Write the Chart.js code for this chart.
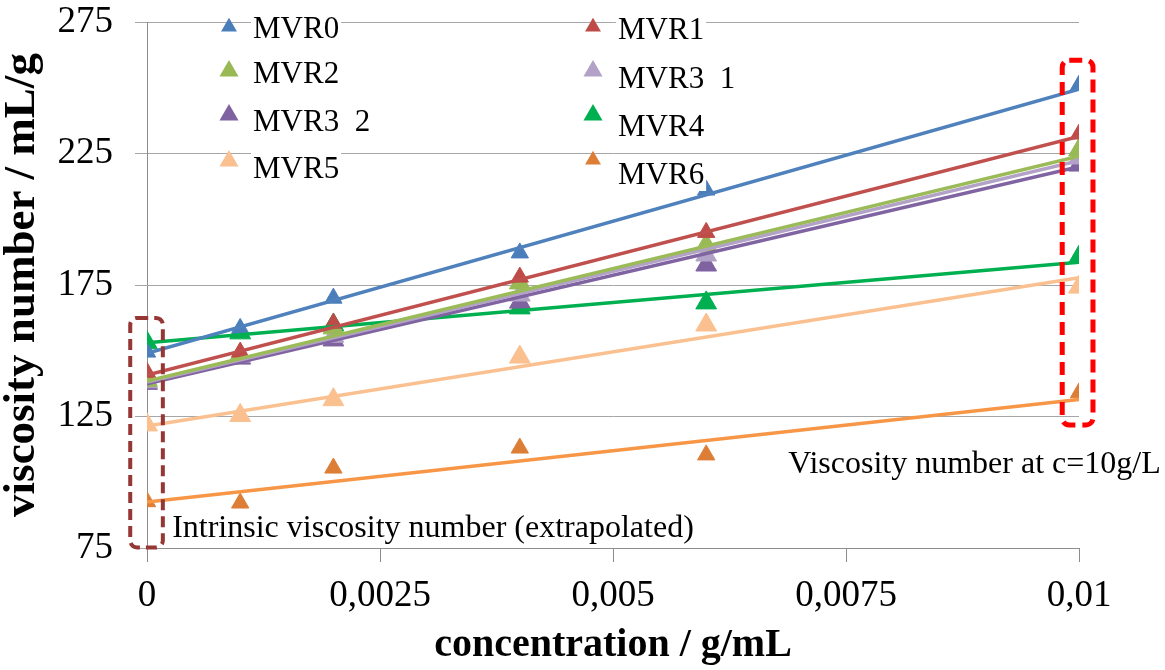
<!DOCTYPE html>
<html>
<head>
<meta charset="utf-8">
<script src="https://cdn.jsdelivr.net/npm/chart.js@4.4.1/dist/chart.umd.min.js"></script>
<style>
    html, body { margin: 0; padding: 0; background: #fff; }
    #wrap { width: 1165px; height: 670px; position: relative; }
</style>
</head>
<body>
<div id="wrap"><canvas id="viscosityChart"></canvas></div>
<script>
// concentration in g/mL
const concentration = [0, 0.001, 0.002, 0.004, 0.006, 0.01];

// measured viscosity numbers (mL/g), first value is the extrapolated one
const mvr0 = [149.5, 158.5, 170, 187.2, 211.1, 251];
const mvr1 = [141.8, 149.5, 160.5, 178, 195, 232.4];
const mvr2 = [138.8, 148.5, 158.7, 175.8, 190.2, 226.3];
const mvr3_1 = [138.2, 148, 155.5, 171.2, 186.4, 223.3];
const mvr3_2 = [137.6, 147.2, 154.1, 168.5, 182.6, 220.6];
const mvr4 = [153, 156.8, 159.8, 166.3, 168.2, 185.6];
const mvr5 = [121.8, 125.4, 131.4, 147.6, 159.8, 174.2];
const mvr6 = [92.6, 92.1, 105.4, 113, 110.4, 134];

// linear trend lines, value read at c = 0 and c = 0.01
const trendX = [0, 0.01];
const trendStart = [149, 140.8, 138.5, 138.1, 137.4, 153, 121.4, 92.5];
const trendEnd = [249.5, 231.5, 224, 222.3, 220, 183.7, 177.8, 131.5];

const seriesLabels = ['MVR0', 'MVR1', 'MVR2', 'MVR3  1', 'MVR3  2', 'MVR4', 'MVR5', 'MVR6'];
const seriesValues = [mvr0, mvr1, mvr2, mvr3_1, mvr3_2, mvr4, mvr5, mvr6];

const yTicks = [75, 125, 175, 225, 275];
const xTicks = [0, 0.0025, 0.005, 0.0075, 0.01];

const pointColors = ['#4a7ebb', '#be4b48', '#98b954', '#b3a2c7', '#7f63a1', '#00b050', '#fac090', '#dd7e36'];
const lineColors = ['#4f81bd', '#c0504d', '#9bbb59', '#b3a2c7', '#8064a2', '#00b050', '#fac090', '#f79646'];
const pointSizes = [10, 10, 12, 12, 12, 12, 12, 10];

const serif = "'Liberation Serif', 'Times New Roman', serif";

function commaNumber(v) {
    return String(Number(v.toFixed(4))).replace('.', ',');
}

const datasets = [];
seriesValues.forEach((values, i) => {
    datasets.push({
        type: 'line',
        label: seriesLabels[i] + ' trend',
        data: trendX.map((x, k) => ({x, y: k === 0 ? trendStart[i] : trendEnd[i]})),
        borderColor: lineColors[i],
        borderWidth: 3.5,
        pointRadius: 0,
        order: 1,
    });
    datasets.push({
        type: 'scatter',
        label: seriesLabels[i],
        data: concentration.map((x, k) => ({x, y: values[k]})),
        pointStyle: 'triangle',
        pointRadius: pointSizes[i],
        backgroundColor: pointColors[i],
        borderColor: pointColors[i],
        borderWidth: 1,
        order: 2,
    });
});

// dashed frames and notes
const notesPlugin = {
    id: 'notes',
    afterDatasetsDraw(chart) {
        const {ctx, scales: {x, y}} = chart;
        ctx.save();

        const frame = (x0, x1, y0, y1, color, width, dash) => {
            const left = x.getPixelForValue(x0);
            const right = x.getPixelForValue(x1);
            const top = y.getPixelForValue(y1);
            const bottom = y.getPixelForValue(y0);
            ctx.beginPath();
            ctx.setLineDash(dash);
            ctx.lineWidth = width;
            ctx.strokeStyle = color;
            ctx.roundRect(left, top, right - left, bottom - top, 7);
            ctx.stroke();
        };
        frame(-0.00018, 0.00017, 75.2, 162.5, '#953735', 4, [11, 6]);
        frame(0.00982, 0.01015, 121.8, 260.5, '#ff0000', 5, [13, 7]);
        ctx.setLineDash([]);

        ctx.fillStyle = '#000';
        ctx.font = `32px ${serif}`;
        ctx.textAlign = 'left';
        ctx.textBaseline = 'alphabetic';
        ctx.fillText('Intrinsic viscosity number (extrapolated)', x.getPixelForValue(0.00027), y.getPixelForValue(79.2));
        ctx.fillText('Viscosity number at c=10g/L', x.getPixelForValue(0.00688), y.getPixelForValue(103.5));

        // legend, two columns inside the plot
        const columns = [
            {marker: 229, text: 253, baselines: [38, 83, 131, 178]},
            {marker: 593, text: 618, baselines: [39, 88, 136, 184]},
        ];
        const markerY = [[27, 71, 115, 161], [27, 71, 115, 160]];
        ctx.font = `31px ${serif}`;
        seriesLabels.forEach((label, i) => {
            const col = i % 2;
            const row = Math.floor(i / 2);
            const c = columns[col];
            const base = c.baselines[row];
            const w = ctx.measureText(label).width;
            ctx.fillStyle = '#fff';
            ctx.fillRect(c.text - 2, base - 27, w + 4, 34);
            ctx.fillStyle = '#000';
            ctx.fillText(label, c.text, base);

            const r = pointSizes[i] * 0.92;
            const cy = markerY[col][row];
            ctx.beginPath();
            ctx.moveTo(c.marker, cy - r);
            ctx.lineTo(c.marker + r * 0.866, cy + r / 2);
            ctx.lineTo(c.marker - r * 0.866, cy + r / 2);
            ctx.closePath();
            ctx.fillStyle = pointColors[i];
            ctx.fill();
        });
        ctx.restore();
    }
};

new Chart(document.getElementById('viscosityChart'), {
    type: 'scatter',
    data: {datasets},
    plugins: [notesPlugin],
    options: {
        responsive: true,
        maintainAspectRatio: false,
        animation: false,
        layout: {padding: {top: 0, right: 86, left: 0, bottom: 0}},
        plugins: {
            legend: {display: false},
            tooltip: {enabled: false},
        },
        scales: {
            x: {
                type: 'linear',
                min: xTicks[0],
                max: xTicks[xTicks.length - 1],
                afterBuildTicks: (scale) => {
                    scale.ticks = xTicks.map((value) => ({value}));
                },
                ticks: {
                    padding: 12,
                    color: '#000',
                    font: {family: serif, size: 37},
                    callback: (v) => commaNumber(v),
                },
                grid: {
                    drawOnChartArea: false,
                    tickLength: 14,
                    color: '#8c8c8c',
                },
                border: {color: '#8c8c8c'},
                title: {
                    display: true,
                    text: 'concentration / g/mL',
                    color: '#000',
                    font: {family: serif, size: 40, weight: 'bold'},
                    padding: 0,
                },
                afterFit: (scale) => { scale.height = 122; },
            },
            y: {
                min: yTicks[0],
                max: yTicks[yTicks.length - 1],
                afterBuildTicks: (scale) => {
                    scale.ticks = yTicks.map((value) => ({value}));
                },
                ticks: {
                    padding: 22,
                    color: '#000',
                    font: {family: serif, size: 37},
                },
                grid: {
                    color: '#a6a6a6',
                    tickLength: 12,
                },
                border: {color: '#8c8c8c'},
                title: {
                    display: true,
                    text: 'viscosity number / mL/g',
                    color: '#000',
                    font: {family: serif, size: 45, weight: 'bold', lineHeight: 1.0},
                    padding: 0,
                },
                afterFit: (scale) => {
                    scale.width = 147;
                    scale.paddingTop = 22;
                    scale.paddingBottom = 22;
                },
            },
        },
    },
});
</script>
</body>
</html>
